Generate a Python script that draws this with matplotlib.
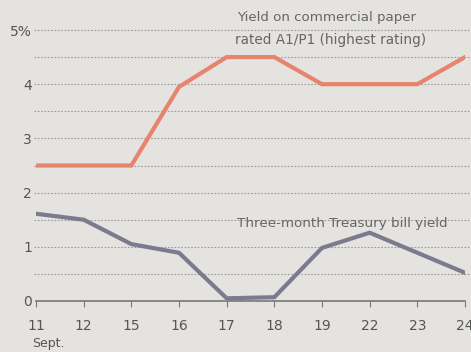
import matplotlib
matplotlib.use("Agg")
import matplotlib.pyplot as plt
import numpy as np

dates = ["11", "12", "15", "16", "17", "18", "19", "22", "23", "24"]
commercial_paper = [2.5, 2.5, 2.5, 3.95, 4.5, 4.5, 4.0, 4.0, 4.0, 4.5]
treasury_bill = [1.61, 1.5, 1.05, 0.89, 0.05, 0.07, 0.98, 1.26, 0.89, 0.52]
ytick_vals = [0, 1, 2, 3, 4, 5]
ytick_labels = ["0", "1", "2", "3", "4", "5%"]

W, H = 471, 352
bg = "#e5e3df"
fig = plt.figure(figsize=(W / 100, H / 100), dpi=100, facecolor=bg)
ax = fig.add_axes([36 / W, 1 - 301 / H, (465 - 36) / W, (301 - 30) / H], facecolor=bg)

x = np.arange(len(dates))
for yv in np.arange(0.5, 5.01, 0.5):
    ax.axhline(yv, xmin=-0.005, xmax=1.02, color="#9a9a9a", lw=0.8, ls=(0, (1.5, 1.5)),
               zorder=1, clip_on=False)

ax.plot(x, commercial_paper, color="#e6846e", lw=3.0, solid_joinstyle="miter", zorder=3)
ax.plot(x, treasury_bill, color="#7c7b8e", lw=3.0, solid_joinstyle="miter", zorder=3)

ax.set_xlim(0, len(dates) - 1)
ax.set_ylim(0, 5.0)
for s in ["top", "right", "left"]:
    ax.spines[s].set_visible(False)
ax.spines["bottom"].set_color("#777777")
ax.spines["bottom"].set_linewidth(1.2)

ax.set_xticks(x)
ax.set_xticklabels(dates)
ax.set_yticks(ytick_vals)
ax.set_yticklabels(ytick_labels)
ax.tick_params(axis="x", direction="out", length=4, color="#777777", labelsize=10,
               labelcolor="#555555", pad=9)
ax.tick_params(axis="y", length=0, labelsize=10, labelcolor="#555555", pad=3)

fig.text(32 / W, 1 - 343 / H, "Sept.", fontsize=9, color="#555555", va="center")

fig.text(237 / W, 1 - 18 / H, "Yield on commercial paper",
         fontsize=9.6, color="#666666", ha="left", va="center")
fig.text(235 / W, 1 - 40 / H, "rated A1/P1 (highest rating)",
         fontsize=9.8, color="#666666", ha="left", va="center")
fig.text(237 / W, 1 - 223 / H, "Three-month Treasury bill yield",
         fontsize=9.7, color="#666666", ha="left", va="center")

fig.savefig("out.png", dpi=100, facecolor=bg)
